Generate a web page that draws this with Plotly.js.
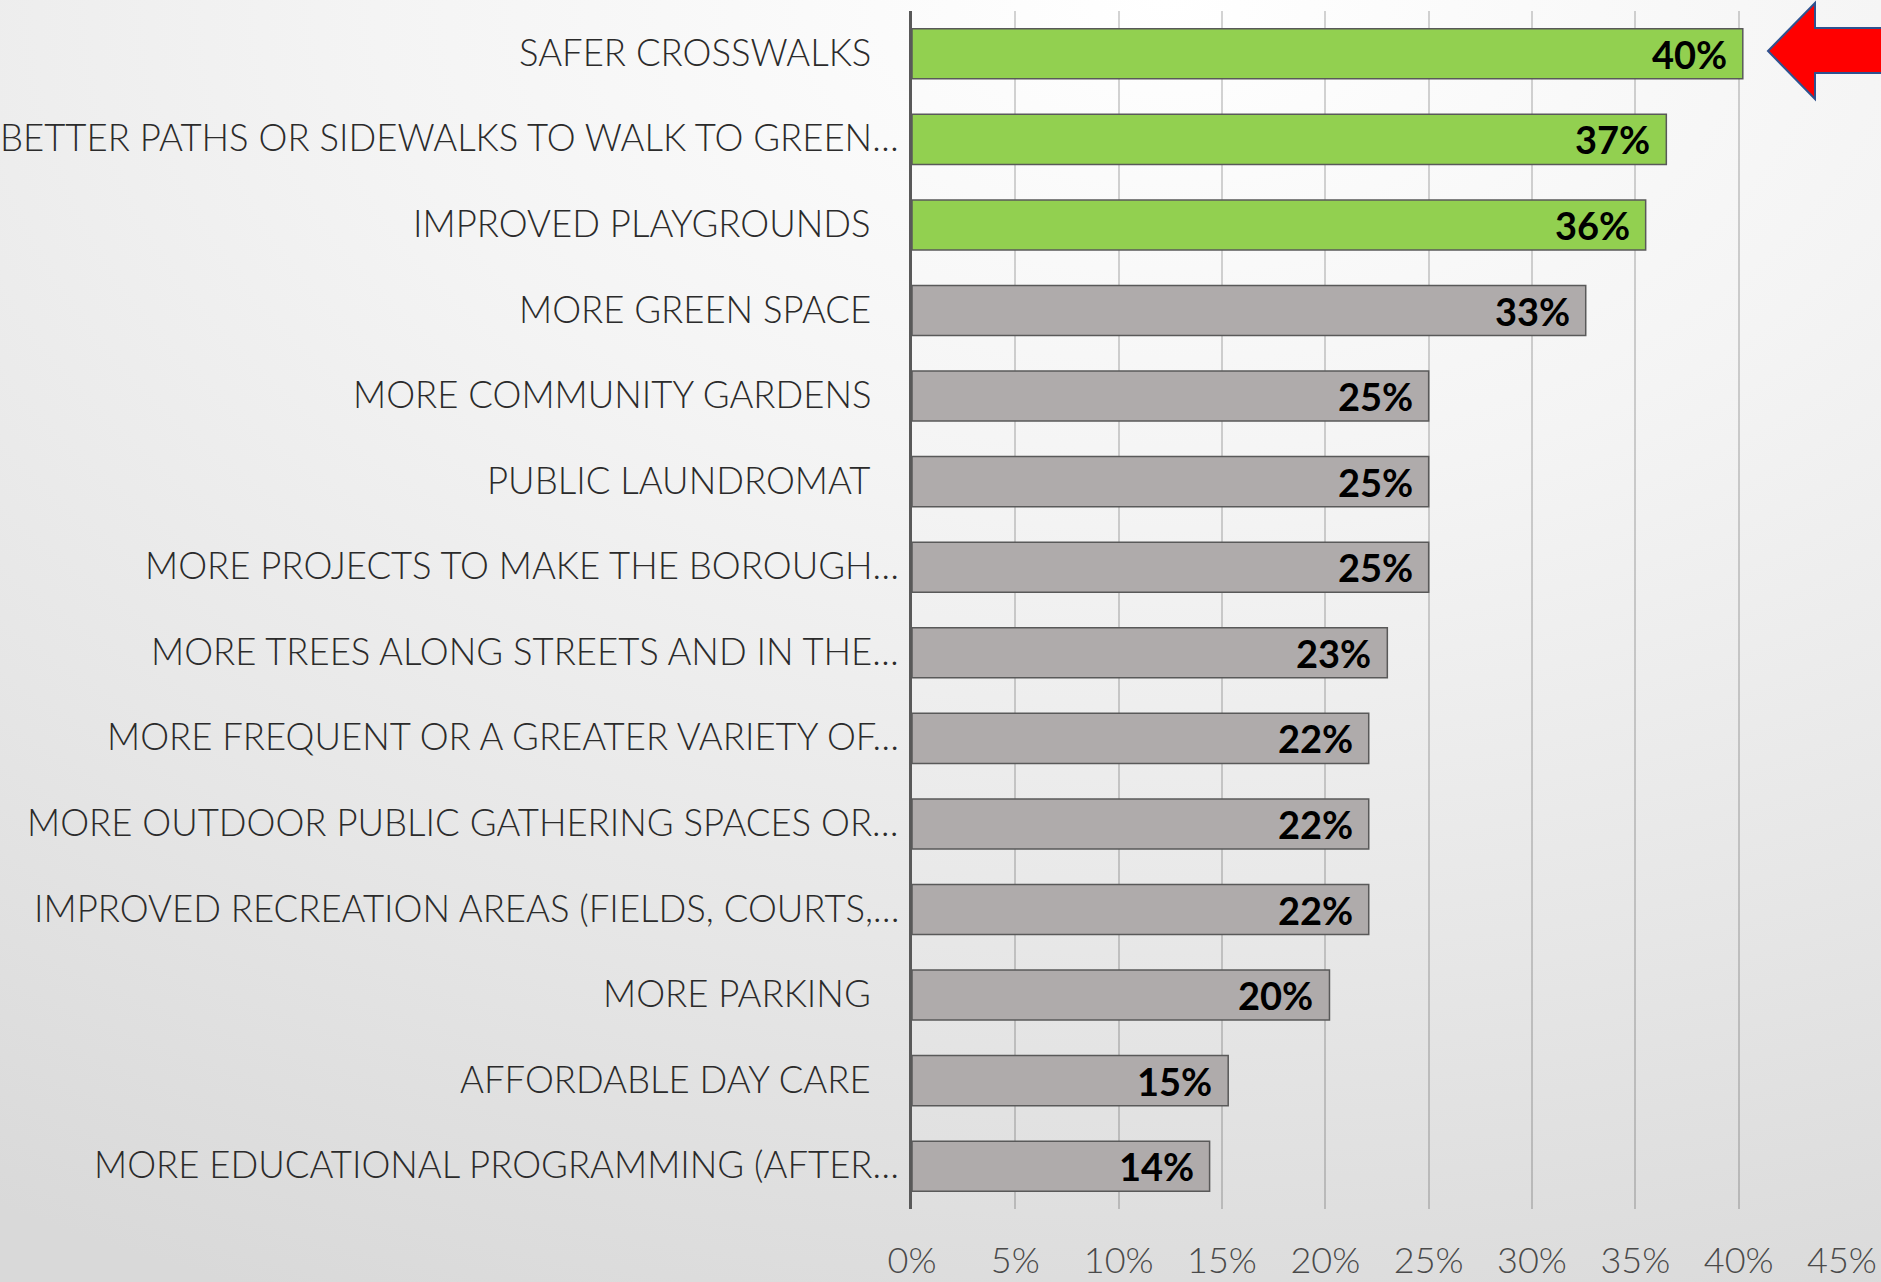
<!DOCTYPE html>
<html>
<head>
<meta charset="utf-8">
<script src="https://cdn.plot.ly/plotly-3.0.1.min.js"></script>
<style>
html,body{margin:0;padding:0;}
body{width:1881px;height:1282px;overflow:hidden;
background: radial-gradient(ellipse 120% 110% at 62% 0%, #ffffff 0%, #f4f4f4 35%, #e6e6e6 70%, #d9d9d9 100%);}
#chart{width:1881px;height:1282px;}
</style>
</head>
<body>
<div id="chart"></div>
<script>
const categories = [
  "SAFER CROSSWALKS",
  "BETTER PATHS OR SIDEWALKS TO WALK TO GREEN…",
  "IMPROVED PLAYGROUNDS",
  "MORE GREEN SPACE",
  "MORE COMMUNITY GARDENS",
  "PUBLIC LAUNDROMAT",
  "MORE PROJECTS TO MAKE THE BOROUGH…",
  "MORE TREES ALONG STREETS AND IN THE…",
  "MORE FREQUENT OR A GREATER VARIETY OF…",
  "MORE OUTDOOR PUBLIC GATHERING SPACES OR…",
  "IMPROVED RECREATION AREAS (FIELDS, COURTS,…",
  "MORE PARKING",
  "AFFORDABLE DAY CARE",
  "MORE EDUCATIONAL PROGRAMMING (AFTER…"
];
// bar lengths (percent)
const values = [40.2, 36.5, 35.5, 32.6, 25.0, 25.0, 25.0, 23.0, 22.1, 22.1, 22.1, 20.2, 15.3, 14.4];
// data labels as printed
const valueLabels = ["40%", "37%", "36%", "33%", "25%", "25%", "25%", "23%", "22%", "22%", "22%", "20%", "15%", "14%"];
const highlighted = [true, true, true, false, false, false, false, false, false, false, false, false, false, false];
const xTicks = [0, 5, 10, 15, 20, 25, 30, 35, 40, 45];
const xTickLabels = ["0%", "5%", "10%", "15%", "20%", "25%", "30%", "35%", "40%", "45%"];

const W = 1881, H = 1282;
const M = {l: 912, r: 39, t: 11, b: 73};
const PW = W - M.l - M.r, PH = H - M.t - M.b;
const px = x => (x - M.l) / PW;
const py = y => (H - M.b - y) / PH;

const labelFont = "Lato, 'Open Sans', sans-serif";

const trace = {
  type: 'bar',
  orientation: 'h',
  x: values,
  y: categories,
  marker: {
    color: highlighted.map(h => h ? '#92D050' : '#AFABAB'),
    line: {color: '#595959', width: 1.5}
  },
  hoverinfo: 'skip'
};

const annotations = [];
categories.forEach((c, i) => {
  const trunc = c.endsWith('…');
  annotations.push({
    x: trunc ? px(901) : px(873), xref: 'paper', xanchor: 'right',
    y: c, yref: 'y', yanchor: 'middle', yshift: 2,
    text: c, showarrow: false,
    font: {family: labelFont, size: 36.5, color: '#2b2b2b', weight: 300}
  });
  annotations.push({
    x: values[i], xref: 'x', xanchor: 'right', xshift: -14,
    y: c, yref: 'y', yanchor: 'middle', yshift: 0,
    text: valueLabels[i], showarrow: false,
    font: {family: labelFont, size: 38, color: '#000000', weight: 700}
  });
});

const arrow = [[1768,51],[1815,3],[1815,28],[1895,28],[1895,73],[1815,73],[1815,99]];
const arrowPath = 'M ' + arrow.map(p => px(p[0]).toFixed(5) + ',' + py(p[1]).toFixed(5)).join(' L ') + ' Z';

const layout = {
  width: W, height: H,
  margin: M,
  paper_bgcolor: 'rgba(0,0,0,0)',
  plot_bgcolor: 'rgba(0,0,0,0)',
  showlegend: false,
  bargap: 0.415,
  xaxis: {
    range: [0, 45],
    tickvals: xTicks,
    ticktext: xTickLabels,
    showgrid: true,
    gridcolor: 'rgba(0,0,0,0.17)',
    gridwidth: 2,
    zeroline: false,
    showline: false,
    ticks: '',
    ticklabelstandoff: 27,
    tickfont: {family: labelFont, size: 36, color: '#4a4a4a', weight: 300},
    fixedrange: true
  },
  yaxis: {
    type: 'category',
    autorange: 'reversed',
    showticklabels: false,
    showgrid: false,
    zeroline: false,
    showline: true,
    linecolor: '#595959',
    linewidth: 3,
    ticks: '',
    fixedrange: true
  },
  annotations: annotations,
  shapes: [{
    type: 'path', xref: 'paper', yref: 'paper',
    path: arrowPath,
    fillcolor: '#FF0000',
    line: {color: '#2F528F', width: 2},
    layer: 'above'
  }]
};

Plotly.newPlot('chart', [trace], layout, {displayModeBar: false, staticPlot: true});
</script>
</body>
</html>
